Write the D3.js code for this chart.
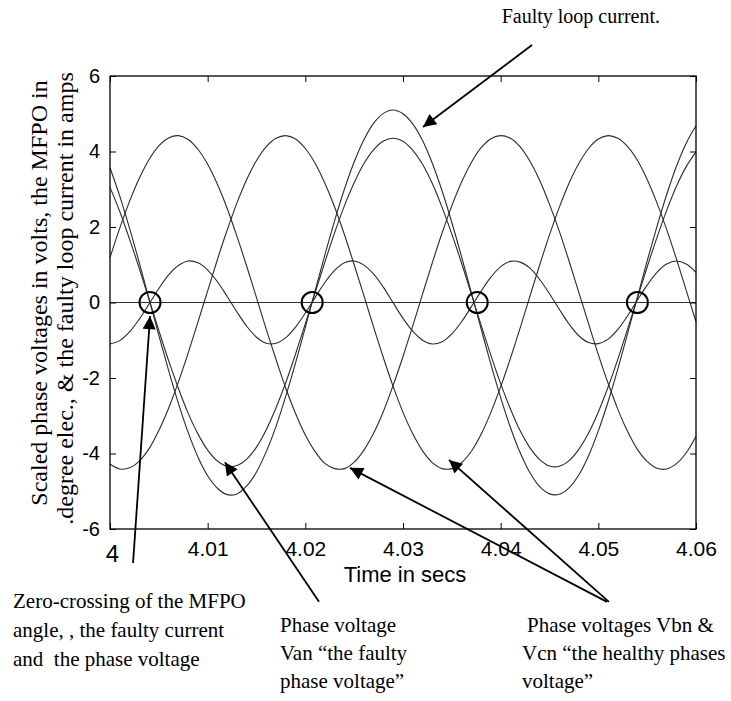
<!DOCTYPE html>
<html>
<head>
<meta charset="utf-8">
<script src="https://cdn.jsdelivr.net/npm/d3@7"></script>
<style>
  html, body { margin: 0; padding: 0; background: #fff; }
  svg { display: block; }
  .sans { font-family: "Liberation Sans", Arial, Helvetica, sans-serif; }
  .serif { font-family: "Liberation Serif", "Times New Roman", Times, serif; }
</style>
</head>
<body>
<svg id="chart" width="731" height="701"></svg>
<script>
// Sample instants (s)
const times = [
  4.000, 4.001, 4.002, 4.003, 4.004, 4.005, 4.006, 4.007, 4.008, 4.009,
  4.010, 4.011, 4.012, 4.013, 4.014, 4.015, 4.016, 4.017, 4.018, 4.019,
  4.020, 4.021, 4.022, 4.023, 4.024, 4.025, 4.026, 4.027, 4.028, 4.029,
  4.030, 4.031, 4.032, 4.033, 4.034, 4.035, 4.036, 4.037, 4.038, 4.039,
  4.040, 4.041, 4.042, 4.043, 4.044, 4.045, 4.046, 4.047, 4.048, 4.049,
  4.050, 4.051, 4.052, 4.053, 4.054, 4.055, 4.056, 4.057, 4.058, 4.059,
  4.060
];

// Faulty loop current (A)
const faultyCurrent = [
  3.57, 2.82, 1.97, 1.05, 0.09, -0.87, -1.80, -2.67, -3.44, -4.09,
  -4.59, -4.92, -5.09, -5.07, -4.86, -4.49, -3.95, -3.28, -2.48, -1.60,
  -0.66, 0.31, 1.26, 2.17, 3.00, 3.72, 4.31, 4.75, 5.01, 5.10,
  5.00, 4.73, 4.29, 3.69, 2.96, 2.12, 1.21, 0.26, -0.70, -1.64,
  -2.52, -3.31, -3.98, -4.51, -4.88, -5.07, -5.08, -4.91, -4.57, -4.06,
  -3.40, -2.63, -1.76, -0.82, 0.14, 1.10, 2.01, 2.86, 3.61, 4.22,
  4.68
];

// Faulty phase voltage Van (scaled V)
const vanVoltage = [
  3.05, 2.41, 1.68, 0.90, 0.08, -0.74, -1.54, -2.27, -2.93, -3.48,
  -3.91, -4.20, -4.34, -4.32, -4.15, -3.83, -3.37, -2.79, -2.12, -1.36,
  -0.56, 0.26, 1.07, 1.85, 2.56, 3.17, 3.68, 4.05, 4.28, 4.35,
  4.27, 4.03, 3.66, 3.15, 2.52, 1.81, 1.04, 0.22, -0.60, -1.40,
  -2.15, -2.82, -3.40, -3.85, -4.16, -4.33, -4.34, -4.19, -3.89, -3.46,
  -2.90, -2.24, -1.50, -0.70, 0.12, 0.94, 1.72, 2.44, 3.08, 3.60,
  3.99
];

// Healthy phase voltage Vbn (scaled V)
const vbnVoltage = [
  -4.28, -4.41, -4.38, -4.20, -3.87, -3.39, -2.80, -2.11, -1.34, -0.52,
  0.31, 1.14, 1.92, 2.64, 3.26, 3.76, 4.13, 4.35, 4.42, 4.33,
  4.08, 3.69, 3.16, 2.53, 1.80, 1.00, 0.18, -0.66, -1.47, -2.23,
  -2.91, -3.48, -3.93, -4.24, -4.40, -4.40, -4.24, -3.94, -3.49, -2.91,
  -2.23, -1.48, -0.67, 0.17, 1.00, 1.79, 2.52, 3.16, 3.68, 4.08,
  4.33, 4.42, 4.35, 4.13, 3.77, 3.26, 2.64, 1.93, 1.15, 0.32,
  -0.51
];

// Healthy phase voltage Vcn (scaled V)
const vcnVoltage = [
  1.19, 1.97, 2.68, 3.29, 3.79, 4.15, 4.36, 4.42, 4.32, 4.06,
  3.66, 3.13, 2.49, 1.75, 0.96, 0.13, -0.71, -1.51, -2.27, -2.94,
  -3.51, -3.95, -4.26, -4.40, -4.40, -4.23, -3.91, -3.46, -2.88, -2.19,
  -1.43, -0.62, 0.22, 1.05, 1.84, 2.56, 3.19, 3.71, 4.10, 4.34,
  4.42, 4.35, 4.12, 3.74, 3.23, 2.60, 1.89, 1.10, 0.27, -0.56,
  -1.38, -2.14, -2.83, -3.42, -3.89, -4.21, -4.39, -4.41, -4.27, -3.98,
  -3.54
];

// MFPO angle (scaled degree elec.)
const mfpoAngle = [
  -1.10, -1.01, -0.78, -0.44, -0.04, 0.37, 0.73, 0.98, 1.10, 1.05,
  0.86, 0.55, 0.16, -0.25, -0.63, -0.92, -1.08, -1.08, -0.93, -0.65,
  -0.28, 0.13, 0.53, 0.85, 1.05, 1.10, 0.99, 0.75, 0.40, -0.01,
  -0.42, -0.76, -1.00, -1.10, -1.04, -0.83, -0.51, -0.11, 0.30, 0.67,
  0.95, 1.09, 1.07, 0.91, 0.61, 0.23, -0.18, -0.57, -0.88, -1.06,
  -1.09, -0.97, -0.71, -0.35, 0.06, 0.46, 0.80, 1.02, 1.10, 1.02,
  0.80
];

// Common zero-crossing instants (s)
const zeroCrossings = [4.0041, 4.0207, 4.0376, 4.0540];

// Axis ticks
const xTicks = [4, 4.01, 4.02, 4.03, 4.04, 4.05, 4.06];
const xTickLabels = ["4", "4.01", "4.02", "4.03", "4.04", "4.05", "4.06"];
const yTicks = [-6, -4, -2, 0, 2, 4, 6];
const yTickLabels = ["-6", "-4", "-2", "0", "2", "4", "6"];

// Annotation arrows: [tailTime, tailValue, tipTime, tipValue]
const arrowFaultyCurrent = [4.04321, 6.82, 4.03205, 4.65];
const arrowZeroCrossing = [4.00236, -6.90, 4.00410, -0.36];
const arrowVan = [4.02140, -7.93, 4.01177, -4.23];
const arrowHealthyA = [4.05089, -7.93, 4.02457, -4.38];
const arrowHealthyB = [4.05109, -7.93, 4.03471, -4.17];

const svg = d3.select("#chart");
const plotLeft = 110, plotRight = 696, plotTop = 76, plotBottom = 529;

const x = d3.scaleLinear().domain([4, 4.06]).range([plotLeft, plotRight]);
const y = d3.scaleLinear().domain([-6, 6]).range([plotBottom, plotTop]);

const defs = svg.append("defs");
defs.append("marker")
  .attr("id", "arrowHead")
  .attr("viewBox", "0 0 10 10")
  .attr("refX", 10).attr("refY", 5)
  .attr("markerWidth", 18).attr("markerHeight", 13)
  .attr("markerUnits", "userSpaceOnUse")
  .attr("orient", "auto")
  .append("path")
  .attr("d", "M0,0L10,5L0,10Z")
  .attr("fill", "#000");

// Zero reference line
svg.append("line")
  .attr("x1", x(4)).attr("x2", x(4.06))
  .attr("y1", y(0)).attr("y2", y(0))
  .attr("stroke", "#333").attr("stroke-width", 1);

// Waveforms
const seriesList = [faultyCurrent, vanVoltage, vbnVoltage, vcnVoltage, mfpoAngle];
const line = d3.line()
  .x((d, i) => x(times[i]))
  .y(d => y(d))
  .curve(d3.curveCatmullRom.alpha(0.5));

svg.append("g")
  .selectAll("path")
  .data(seriesList)
  .join("path")
  .attr("d", line)
  .attr("fill", "none")
  .attr("stroke", "#2b2b2b")
  .attr("stroke-width", 1.1);

// Zero-crossing markers
svg.append("g")
  .selectAll("circle")
  .data(zeroCrossings)
  .join("circle")
  .attr("cx", d => x(d))
  .attr("cy", y(0))
  .attr("r", 10.5)
  .attr("fill", "none")
  .attr("stroke", "#000")
  .attr("stroke-width", 2);

// Axes (ticks pointing inward)
const xAxisBottom = svg.append("g")
  .attr("class", "sans")
  .attr("transform", `translate(0,${plotBottom})`)
  .call(d3.axisBottom(x).tickValues(xTicks)
    .tickFormat((d, i) => xTickLabels[i])
    .tickSizeInner(-6).tickSizeOuter(0).tickPadding(12));

svg.append("g")
  .attr("transform", `translate(0,${plotTop})`)
  .call(d3.axisTop(x).tickValues(xTicks).tickFormat("")
    .tickSizeInner(-6).tickSizeOuter(0));

const yAxisLeft = svg.append("g")
  .attr("class", "sans")
  .attr("transform", `translate(${plotLeft},0)`)
  .call(d3.axisLeft(y).tickValues(yTicks)
    .tickFormat((d, i) => yTickLabels[i])
    .tickSizeInner(-6).tickSizeOuter(0).tickPadding(10));

svg.append("g")
  .attr("transform", `translate(${plotRight},0)`)
  .call(d3.axisRight(y).tickValues(yTicks).tickFormat("")
    .tickSizeInner(-6).tickSizeOuter(0));

svg.selectAll(".domain").remove();
svg.selectAll(".tick line").attr("stroke", "#000").attr("stroke-width", 1);

xAxisBottom.selectAll(".tick text")
  .attr("font-size", 21)
  .attr("fill", "#000")
  .attr("font-family", "Liberation Sans, Arial, sans-serif");
xAxisBottom.selectAll(".tick text")
  .filter(d => d === 4)
  .attr("font-size", 24)
  .attr("x", 2)
  .attr("y", 16);

yAxisLeft.selectAll(".tick text")
  .attr("font-size", 20)
  .attr("fill", "#000")
  .attr("font-family", "Liberation Sans, Arial, sans-serif");

// Plot frame
svg.append("rect")
  .attr("x", plotLeft).attr("y", plotTop)
  .attr("width", plotRight - plotLeft)
  .attr("height", plotBottom - plotTop)
  .attr("fill", "none")
  .attr("stroke", "#000")
  .attr("stroke-width", 1.3);

// Axis titles
svg.append("text")
  .attr("class", "sans")
  .attr("x", 405).attr("y", 582)
  .attr("text-anchor", "middle")
  .attr("font-size", 22)
  .text("Time in secs");

svg.append("text")
  .attr("class", "serif")
  .attr("transform", "translate(47,293) rotate(-90)")
  .attr("text-anchor", "middle")
  .attr("font-size", 24)
  .text("Scaled phase voltages in volts, the MFPO in");

svg.append("text")
  .attr("class", "serif")
  .attr("transform", "translate(73,298.5) rotate(-90)")
  .attr("text-anchor", "middle")
  .attr("font-size", 24)
  .text(".degree elec., & the faulty loop current in amps");

// Annotation arrows
const arrows = [arrowFaultyCurrent, arrowZeroCrossing, arrowVan, arrowHealthyA, arrowHealthyB];
svg.append("g")
  .selectAll("line")
  .data(arrows)
  .join("line")
  .attr("x1", d => x(d[0])).attr("y1", d => y(d[1]))
  .attr("x2", d => x(d[2])).attr("y2", d => y(d[3]))
  .attr("stroke", "#000")
  .attr("stroke-width", 1.8)
  .attr("marker-end", "url(#arrowHead)");

// Annotation texts
function textBlock(lines, xPos, baselines, size, anchor) {
  const t = svg.append("text")
    .attr("class", "serif")
    .attr("font-size", size)
    .attr("text-anchor", anchor || "start");
  lines.forEach((s, i) => {
    t.append("tspan").attr("x", Array.isArray(xPos) ? xPos[i] : xPos).attr("y", baselines[i]).text(s);
  });
}

textBlock(["Faulty loop current."], 660, [23], 20, "end");
textBlock(["Zero-crossing of the MFPO", "angle, , the faulty current", "and\u00a0 the phase voltage"],
  13, [608, 637, 666], 21);
textBlock(["Phase voltage", "Van \u201cthe faulty", "phase voltage\u201d"],
  280, [632, 660, 688], 21);
textBlock(["Phase voltages Vbn &", "Vcn \u201cthe healthy phases", "voltage\u201d"],
  [527, 522, 522], [632, 660, 688], 21);
</script>
</body>
</html>
